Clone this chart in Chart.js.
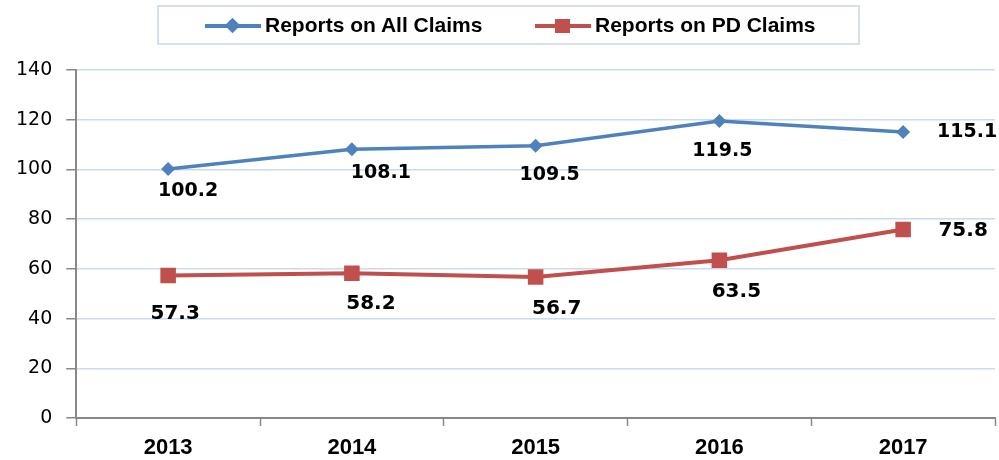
<!DOCTYPE html>
<html>
<head>
<meta charset="utf-8">
<script src="https://cdn.jsdelivr.net/npm/chart.js@4/dist/chart.umd.min.js"></script>
<style>
  body { margin: 0; background: #fff; }
  #wrap { position: relative; width: 999px; height: 460px; }
  #legend {
    position: absolute; left: 157px; top: 5px; width: 699px; height: 36px;
    border: 2px solid #d6e0ed; box-sizing: content-box;
    font: bold 21px "Liberation Sans", Arial, sans-serif; color: #000;
  }
  .line { position: absolute; top: 17px; height: 4px; width: 56px; }
  .mark { position: absolute; }
  .txt { position: absolute; top: 6px; white-space: nowrap; }
</style>
</head>
<body>
<div id="wrap">
  <canvas id="chart" width="999" height="460"></canvas>
  <div id="legend"></div>
</div>
<script>
const years = ['2013', '2014', '2015', '2016', '2017'];
const allClaims = [100.2, 108.1, 109.5, 119.5, 115.1];
const pdClaims = [57.3, 58.2, 56.7, 63.5, 75.8];
const seriesNames = ['Reports on All Claims', 'Reports on PD Claims'];

const blue = '#4f81bd';
const red = '#c0504d';

// where each value label sits relative to its point (px)
const allLabelOffsets = [[20, 22], [29, 24], [14, 29], [3, 30], [64, 0]];
const pdLabelOffsets = [[7, 38], [19, 30], [21, 32], [17, 32], [60, 1]];

// legend, built from the series names
const legend = document.getElementById('legend');
legend.innerHTML = `
  <div class="line" style="left:46px;background:${blue}"></div>
  <div class="mark" style="left:68px;top:13px;width:11px;height:11px;background:${blue};transform:rotate(45deg)"></div>
  <div class="txt" style="left:106px">${seriesNames[0]}</div>
  <div class="line" style="left:376px;background:${red}"></div>
  <div class="mark" style="left:396px;top:12px;width:15px;height:14px;background:${red}"></div>
  <div class="txt" style="left:436px">${seriesNames[1]}</div>
`;

const valueLabels = {
    id: 'valueLabels',
    afterDatasetsDraw(chart) {
        const ctx = chart.ctx;
        const sets = [
            { meta: chart.getDatasetMeta(0), vals: allClaims, offs: allLabelOffsets, font: 'bold 19px "DejaVu Sans", Verdana, sans-serif' },
            { meta: chart.getDatasetMeta(1), vals: pdClaims, offs: pdLabelOffsets, font: 'bold 20px "DejaVu Sans", Verdana, sans-serif' }
        ];
        ctx.save();
        ctx.fillStyle = '#000';
        ctx.textAlign = 'center';
        ctx.textBaseline = 'middle';
        sets.forEach(s => {
            ctx.font = s.font;
            s.meta.data.forEach((pt, i) => {
                ctx.fillText(s.vals[i].toFixed(1), pt.x + s.offs[i][0], pt.y + s.offs[i][1]);
            });
        });
        ctx.restore();
    }
};

new Chart(document.getElementById('chart'), {
    type: 'line',
    data: {
        labels: years,
        datasets: [{
            label: seriesNames[0],
            data: allClaims,
            borderColor: blue,
            backgroundColor: blue,
            borderWidth: 3.5,
            pointStyle: 'rectRot',
            pointRadius: 7,
            pointBorderWidth: 0,
            tension: 0
        }, {
            label: seriesNames[1],
            data: pdClaims,
            borderColor: red,
            backgroundColor: red,
            borderWidth: 4,
            pointStyle: 'rect',
            pointRadius: 11,
            pointBorderWidth: 0,
            tension: 0
        }]
    },
    options: {
        responsive: false,
        animation: false,
        devicePixelRatio: 1,
        layout: { autoPadding: false, padding: { left: 2, top: 70, right: 4, bottom: 0 } },
        plugins: { legend: { display: false }, tooltip: { enabled: false } },
        scales: {
            x: {
                offset: true,
                afterFit: s => { s.height = 42; s.paddingLeft = 0; s.paddingRight = 0; },
                grid: { offset: true, drawOnChartArea: false, tickLength: 8, tickColor: '#888', tickWidth: 1.5 },
                border: { color: '#888', width: 2 },
                ticks: { color: '#000', padding: 11, font: { family: '"Liberation Sans", Arial, sans-serif', size: 22, weight: 'bold', lineHeight: 1 } }
            },
            y: {
                min: 0,
                max: 140,
                ticks: { stepSize: 20, color: '#000', padding: 14, font: { family: '"DejaVu Sans", Verdana, sans-serif', size: 19 } },
                grid: { color: '#c8daf0', lineWidth: 1.5, tickLength: 10, tickColor: '#888', tickWidth: 1.5 },
                border: { color: '#888', width: 2 }
            }
        }
    },
    plugins: [valueLabels]
});
</script>
</body>
</html>
